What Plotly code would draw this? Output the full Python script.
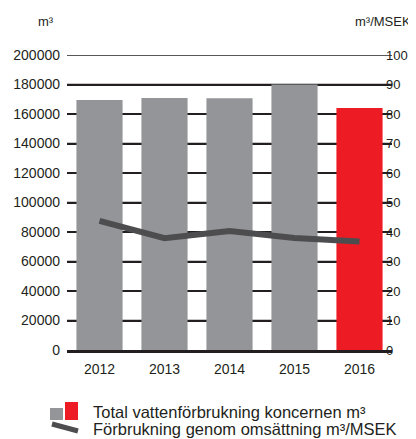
import plotly.graph_objects as go

# data
years = ['2012', '2013', '2014', '2015', '2016']
water_m3 = [169500, 170800, 170600, 180000, 164000]
water_per_msek = [43.8, 37.9, 40.3, 38.0, 36.8]
bar_colors = ['#939598', '#939598', '#939598', '#939598', '#ed1c24']

left_ticks = [0, 20000, 40000, 60000, 80000, 100000, 120000, 140000, 160000, 180000, 200000]
right_ticks = [0, 10, 20, 30, 40, 50, 60, 70, 80, 90, 100]

# the page puts the figure 8px in from the top-left corner
OFF = 8
W, H = 416 - OFF, 439 - OFF
L, R, T, B = 67 - OFF, 24, 55 - OFF, 89
FONT = 'Liberation Sans Narrow, Liberation Sans, Arial, sans-serif'


def px(x):
    # window pixel -> paper x
    return (x - OFF - L) / (W - L - R)


def py(y):
    # window pixel -> paper y
    return (H - B - (y - OFF)) / (H - T - B)


fig = go.Figure()
fig.add_trace(go.Bar(x=years, y=water_m3, marker=dict(color=bar_colors, line=dict(width=0)),
                     name='Total vattenförbrukning koncernen m³', showlegend=False))
fig.add_trace(go.Scatter(x=years, y=water_per_msek, yaxis='y2', mode='lines',
                         line=dict(color='#4d4d4f', width=6),
                         name='Förbrukning genom omsättning m³/MSEK', showlegend=False))

fig.update_layout(
    width=W, height=H,
    margin=dict(l=L, r=R, t=T, b=B, autoexpand=False),
    paper_bgcolor='white', plot_bgcolor='rgba(0,0,0,0)',
    font=dict(family='Liberation Sans, Arial, sans-serif', size=14, color='#231f20'),
    bargap=0.29,
    xaxis=dict(type='category', range=[-0.5, 4.5], showgrid=False, showline=True,
               linecolor='#231f20', linewidth=3, ticks='', ticklabelstandoff=4,
               automargin=False),
    yaxis=dict(range=[0, 200000], tickmode='array', tickvals=left_ticks, tickformat='d',
               showgrid=True, gridcolor='#231f20', gridwidth=1.5, zeroline=False, ticks='',
               ticklabelstandoff=6, showline=False, automargin=False),
    yaxis2=dict(range=[0, 100], overlaying='y', side='right', tickmode='array',
                tickvals=right_ticks, showgrid=False, zeroline=False,
                ticks='', ticklabelstandoff=-7, automargin=False, tickfont=dict(size=13)),
)

# horizontal rules behind the bars, one per left tick
for v in left_ticks[1:]:
    fig.add_shape(type='line', xref='paper', yref='y', x0=0, x1=1, y0=v, y1=v,
                  layer='below', line=dict(color='#231f20', width=1.5))

# axis unit labels
fig.add_annotation(text='m³', xref='paper', yref='paper', x=px(46), y=py(22),
                   showarrow=False, xanchor='center', yanchor='middle', font=dict(size=13))
fig.add_annotation(text='m³/MSEK', xref='paper', yref='paper', x=px(413), y=py(22),
                   showarrow=False, xanchor='right', yanchor='middle', font=dict(size=13))

# hand-made legend
fig.add_shape(type='rect', xref='paper', yref='paper', x0=px(50), x1=px(63), y0=py(420), y1=py(408),
              fillcolor='#939598', line=dict(width=0))
fig.add_shape(type='rect', xref='paper', yref='paper', x0=px(65), x1=px(78), y0=py(420), y1=py(402),
              fillcolor='#ed1c24', line=dict(width=0))
fig.add_shape(type='line', xref='paper', yref='paper', x0=px(52), x1=px(78), y0=py(424), y1=py(431),
              line=dict(color='#4d4d4f', width=5))
fig.add_annotation(text='Total vattenförbrukning koncernen m³', xref='paper', yref='paper',
                   x=px(91), y=py(412), showarrow=False, xanchor='left', yanchor='middle',
                   font=dict(family=FONT, size=16.5))
fig.add_annotation(text='Förbrukning genom omsättning m³/MSEK', xref='paper', yref='paper',
                   x=px(91), y=py(429), showarrow=False, xanchor='left', yanchor='middle',
                   font=dict(family=FONT, size=16.5))

fig.write_html('out.html')
